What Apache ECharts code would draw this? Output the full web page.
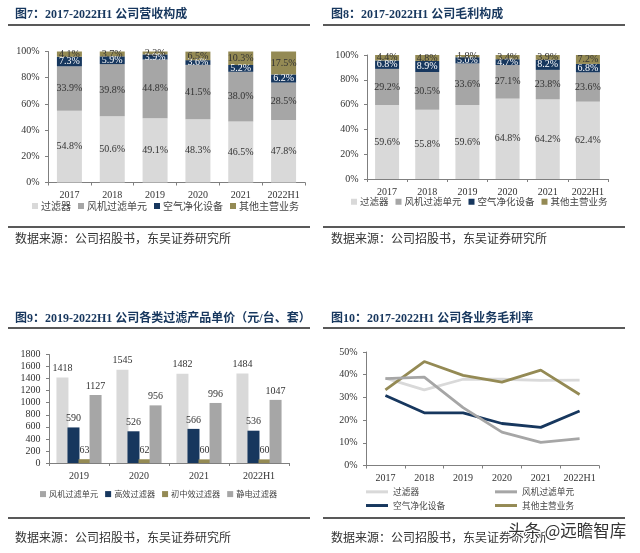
<!DOCTYPE html>
<html>
<head>
<meta charset="utf-8">
<style>
  html, body { margin: 0; padding: 0; background: #fff; }
  #main { width: 640px; height: 553px; }
</style>
<script src="https://cdn.jsdelivr.net/npm/echarts@6/dist/echarts.min.js"></script>
</head>
<body>
<div id="main"></div>
<script>
var years = ['2017', '2018', '2019', '2020', '2021', '2022H1'];
var priceYears = ['2019', '2020', '2021', '2022H1'];

var stackNames = ['过滤器', '风机过滤单元', '空气净化设备', '其他主营业务'];
var revFilter = [54.8, 50.6, 49.1, 48.3, 46.5, 47.8];
var revFan = [33.9, 39.8, 44.8, 41.5, 38.0, 28.5];
var revAir = [7.3, 5.9, 3.9, 3.6, 5.2, 6.2];
var revOther = [4.1, 3.7, 2.2, 6.5, 10.3, 17.5];

var gpFilter = [59.6, 55.8, 59.6, 64.8, 64.2, 62.4];
var gpFan = [29.2, 30.5, 33.6, 27.1, 23.8, 23.6];
var gpAir = [6.8, 8.9, 5.0, 4.7, 8.2, 6.8];
var gpOther = [4.4, 4.8, 1.8, 3.4, 3.9, 7.2];

var priceNames = ['风机过滤单元', '高效过滤器', '初中效过滤器', '静电过滤器'];
var priceFan = [1418, 1545, 1482, 1484];
var priceHigh = [590, 526, 566, 536];
var priceMid = [63, 62, 60, 60];
var priceStatic = [1127, 956, 996, 1047];

var marginFilter = [38.5, 33.3, 38.0, 38.0, 37.5, 37.6];
var marginFan = [30.8, 23.2, 23.2, 18.5, 16.8, 24.0];
var marginAir = [33.3, 45.8, 39.7, 36.7, 42.0, 31.3];
var marginOther = [38.3, 38.9, 25.5, 14.7, 10.2, 11.8];

var titles = [
  '图7：2017-2022H1 公司营收构成',
  '图8：2017-2022H1 公司毛利构成',
  '图9：2019-2022H1 公司各类过滤产品单价（元/台、套）',
  '图10：2017-2022H1 公司各业务毛利率'
];
var sourceText = '数据来源：公司招股书，东吴证券研究所';

var LIGHT = '#d9d9d9', MID = '#a6a6a6', NAVY = '#17375e', OLIVE = '#948a54';
var FONT = '"Liberation Serif", "Noto Sans CJK SC", serif';
var AXIS = '#7f7f7f';
var TEXT = '#333';

var chart = echarts.init(document.getElementById('main'));

function xAxis(gridIndex, data) {
  return {
    type: 'category', gridIndex: gridIndex, data: data,
    axisLine: { lineStyle: { color: AXIS } },
    axisTick: { show: true, length: 3, lineStyle: { color: AXIS } },
    axisLabel: { color: TEXT, fontFamily: FONT, fontSize: 10, margin: 8, interval: 0 }
  };
}

function yAxis(gridIndex, max, interval, fmt) {
  return {
    type: 'value', gridIndex: gridIndex, min: 0, max: max, interval: interval,
    splitLine: { show: false },
    axisLine: { show: true, lineStyle: { color: AXIS } },
    axisTick: { show: true, length: 3, lineStyle: { color: AXIS } },
    axisLabel: { color: TEXT, fontFamily: FONT, fontSize: 10, margin: 8.5, formatter: fmt }
  };
}

function stackBar(name, data, idx, color, labelColor, width) {
  return {
    name: name, type: 'bar', stack: 'p' + idx, data: data,
    xAxisIndex: idx, yAxisIndex: idx, barWidth: width,
    itemStyle: { color: color },
    label: {
      show: true, position: 'inside', color: labelColor, fontFamily: FONT, fontSize: 10,
      formatter: function (p) { return p.value.toFixed(1) + '%'; }
    }
  };
}

function priceBar(name, data, color) {
  return {
    name: name, type: 'bar', data: data, xAxisIndex: 2, yAxisIndex: 2,
    barWidth: 12, barGap: '-8%',
    itemStyle: { color: color },
    label: { show: true, position: 'top', distance: 4, color: TEXT, fontFamily: FONT, fontSize: 10 }
  };
}

function marginLine(name, data, color) {
  return {
    name: name, type: 'line', data: data, xAxisIndex: 3, yAxisIndex: 3,
    symbol: 'none', lineStyle: { color: color, width: 2.8 }, itemStyle: { color: color }
  };
}

function squareLegend(names, left, top, size) {
  return {
    data: names, left: left, top: top, padding: 0, icon: 'rect',
    itemWidth: 6, itemHeight: 6, itemGap: 7,
    textStyle: { fontFamily: '"Noto Sans CJK SC"', fontSize: size, color: '#444', padding: [0, 0, 0, -2] }
  };
}

function lineLegend(names, left) {
  return {
    data: names, left: left, top: 487.5, orient: 'vertical', padding: 0, itemGap: 5,
    itemWidth: 22, itemHeight: 3, icon: 'rect',
    textStyle: { fontFamily: '"Noto Sans CJK SC"', fontSize: 8.7, color: '#444' }
  };
}

function rule(x, y) {
  return { type: 'line', shape: { x1: x, y1: y, x2: x + 302, y2: y }, style: { stroke: '#222', lineWidth: 1.5 } };
}

function source(x, y) {
  return {
    type: 'text', x: x, y: y,
    style: { text: sourceText, fontFamily: '"Noto Sans CJK SC"', fontSize: 12, fill: '#333' }
  };
}

function titleOf(i, left, top) {
  return {
    text: titles[i], left: left, top: top, padding: 0,
    textStyle: { fontFamily: FONT, fontSize: 12, fontWeight: 'bold', color: '#17375e' }
  };
}

var pct = '{value}%';
function plain(v) { return String(v); }

chart.setOption({
  animation: false,
  backgroundColor: '#fff',
  title: [titleOf(0, 15, 9), titleOf(1, 331, 9), titleOf(2, 15, 313), titleOf(3, 331, 313)],
  grid: [
    { left: 48, top: 51.5, width: 257, height: 131 },
    { left: 367, top: 55, width: 241, height: 124 },
    { left: 49, top: 354.5, width: 240, height: 108.5 },
    { left: 366, top: 352, width: 233, height: 113.5 }
  ],
  xAxis: [xAxis(0, years), xAxis(1, years), xAxis(2, priceYears), xAxis(3, years)],
  yAxis: [
    yAxis(0, 100, 20, pct), yAxis(1, 100, 20, pct),
    yAxis(2, 1800, 200, plain), yAxis(3, 50, 10, pct)
  ],
  legend: [
    squareLegend(stackNames, 32, 201, 10),
    squareLegend(stackNames, 351, 197, 9.5),
    squareLegend(priceNames, 40, 490, 8.2),
    lineLegend(['过滤器', '空气净化设备'], 366),
    lineLegend(['风机过滤单元', '其他主营业务'], 495)
  ],
  series: [
    stackBar(stackNames[0], revFilter, 0, LIGHT, TEXT, 25),
    stackBar(stackNames[1], revFan, 0, MID, TEXT, 25),
    stackBar(stackNames[2], revAir, 0, NAVY, '#fff', 25),
    stackBar(stackNames[3], revOther, 0, OLIVE, TEXT, 25),
    stackBar(stackNames[0], gpFilter, 1, LIGHT, TEXT, 24),
    stackBar(stackNames[1], gpFan, 1, MID, TEXT, 24),
    stackBar(stackNames[2], gpAir, 1, NAVY, '#fff', 24),
    stackBar(stackNames[3], gpOther, 1, OLIVE, TEXT, 24),
    priceBar(priceNames[0], priceFan, LIGHT),
    priceBar(priceNames[1], priceHigh, NAVY),
    priceBar(priceNames[2], priceMid, OLIVE),
    priceBar(priceNames[3], priceStatic, MID),
    marginLine(stackNames[0], marginFilter, LIGHT),
    marginLine(stackNames[1], marginFan, NAVY),
    marginLine(stackNames[2], marginAir, OLIVE),
    marginLine(stackNames[3], marginOther, MID)
  ],
  graphic: [
    rule(8, 25), rule(323, 25), rule(8, 227), rule(323, 227),
    rule(8, 328), rule(323, 328), rule(8, 518), rule(323, 518),
    source(15, 232), source(331, 232), source(15, 531), source(331, 531),
    {
      type: 'text', x: 508, y: 522, z: 100,
      style: {
        text: '头条 @远瞻智库', fontFamily: '"Noto Sans CJK SC"', fontSize: 16.5,
        fill: '#333', stroke: '#fff', lineWidth: 2
      }
    }
  ]
});
</script>
</body>
</html>
